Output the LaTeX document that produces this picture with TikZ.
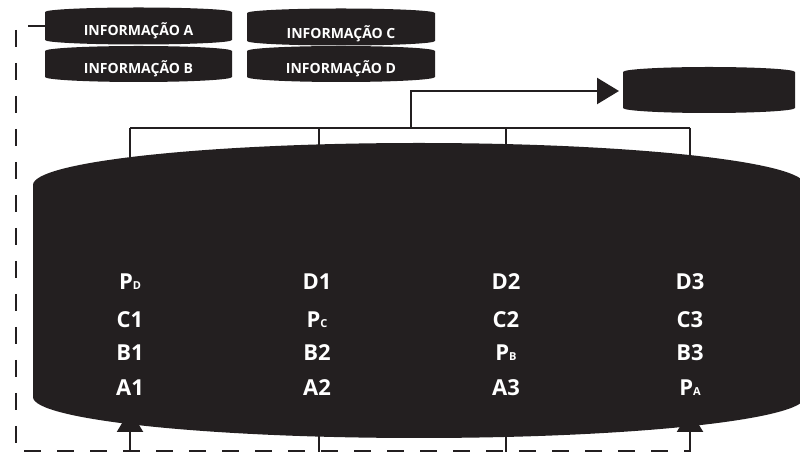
\documentclass[tikz,border=0pt]{standalone}
\usepackage{fontspec}
\setmainfont{Open Sans}
\usetikzlibrary{arrows.meta}
\definecolor{tinta}{RGB}{35,31,32}
\newcommand\Pidx[1]{P{\fontsize{11}{11}\selectfont #1}}
\tikzset{
  conector/.style={draw=tinta, line width=2.4pt},
  seta/.style={conector, -{Triangle[length=22pt,width=26pt]}},
  tracejado/.style={draw=tinta, line width=2.2pt, dash pattern=on 17pt off 16pt},
  info/.style={text=white, anchor=base, font=\bfseries\fontsize{14}{14}\selectfont},
  rotulo/.style={text=white, anchor=base, font=\bfseries\fontsize{22}{22}\selectfont},
}
\begin{document}
\begin{tikzpicture}[x=1pt,y=1pt,line cap=butt]
  \useasboundingbox (0,0) rectangle (800,452);
  \clip (0,0) rectangle (800,452);
  % ── colunas: topo (chave) e base (entradas) ──
  \foreach \n/\x in {1/130,2/319,3/506,4/690} {
    \coordinate (topo\n) at (\x,324);
    \coordinate (base\n) at (\x,-5);
  }
  \coordinate (meio) at (411,324);
  \coordinate (saida) at (619,361);
  \coordinate (ligA) at (45,426);
  % ── chave superior e seta para o disco de saída ──
  \draw[conector] (topo1) -- (topo4);
  \foreach \n in {1,...,4} { \draw[conector] (topo\n) -- ++(0,-40); }
  \draw[seta] (meio) |- (saida);
  % ── entradas sem seta (A2, A3) ──
  \draw[conector] (base2) -- ++(0,40);
  \draw[conector] (base3) -- ++(0,40);
  % ── cilindro grande ──
  \fill[tinta] (33,267) arc[start angle=180,end angle=0,x radius=386,y radius=42]
    -- (805,55) arc[start angle=0,end angle=-180,x radius=386,y radius=41] -- cycle;
  % ── discos de informação ──
  \fill[tinta] (45,412) -- (45,440) arc[start angle=180,end angle=0,x radius=93.5,y radius=4.5]
    -- (232,412) arc[start angle=0,end angle=-180,x radius=93.5,y radius=4.5] -- cycle;
  \fill[tinta] (45,375) -- (45,401) arc[start angle=180,end angle=0,x radius=93.5,y radius=5]
    -- (232,375) arc[start angle=0,end angle=-180,x radius=93.5,y radius=5] -- cycle;
  \fill[tinta] (247,411) -- (247,439) arc[start angle=180,end angle=0,x radius=94,y radius=4.5]
    -- (435,411) arc[start angle=0,end angle=-180,x radius=94,y radius=4.5] -- cycle;
  \fill[tinta] (247,375) -- (247,401) arc[start angle=180,end angle=0,x radius=94,y radius=5]
    -- (435,375) arc[start angle=0,end angle=-180,x radius=94,y radius=5] -- cycle;
  % disco de saída (vazio)
  \fill[tinta] (623,344) -- (623,380) arc[start angle=180,end angle=0,x radius=86,y radius=5]
    -- (795,344) arc[start angle=0,end angle=-180,x radius=86,y radius=5] -- cycle;
  \node[info] (infoA) at (138.5,416) {INFORMAÇÃO A};
  \node[info] (infoB) at (138.5,378) {INFORMAÇÃO B};
  \node[info] (infoC) at (341,413) {INFORMAÇÃO C};
  \node[info] (infoD) at (341,378) {INFORMAÇÃO D};
  % ── conteúdo do cilindro, linha a linha ──
  \node[rotulo] (pd) at (130,162.5) {\Pidx{D}};
  \node[rotulo] (d1) at (317,162.5) {D1};
  \node[rotulo] (d2) at (506,162.5) {D2};
  \node[rotulo] (d3) at (690,162.5) {D3};
  \node[rotulo] (c1) at (130,124.5) {C1};
  \node[rotulo] (pc) at (317,124.5) {\Pidx{C}};
  \node[rotulo] (c2) at (506,124.5) {C2};
  \node[rotulo] (c3) at (690,124.5) {C3};
  \node[rotulo] (b1) at (130,91.5) {B1};
  \node[rotulo] (b2) at (317,91.5) {B2};
  \node[rotulo] (pb) at (506,91.5) {\Pidx{B}};
  \node[rotulo] (b3) at (690,91.5) {B3};
  \node[rotulo] (a1) at (130,56.5) {A1};
  \node[rotulo] (a2) at (317,56.5) {A2};
  \node[rotulo] (a3) at (506,56.5) {A3};
  \node[rotulo] (pa) at (690,56.5) {\Pidx{A}};
  % ── retorno tracejado de A até P_A ──
  \draw[tracejado] (ligA) -- (16,426) -- (16,1) -- (690,1);
  % ── entradas com seta (A1, P_A) ──
  \draw[seta] (base1) -- ++(0,47);
  \draw[seta] (base4) -- ++(0,47);
\end{tikzpicture}
\end{document}
